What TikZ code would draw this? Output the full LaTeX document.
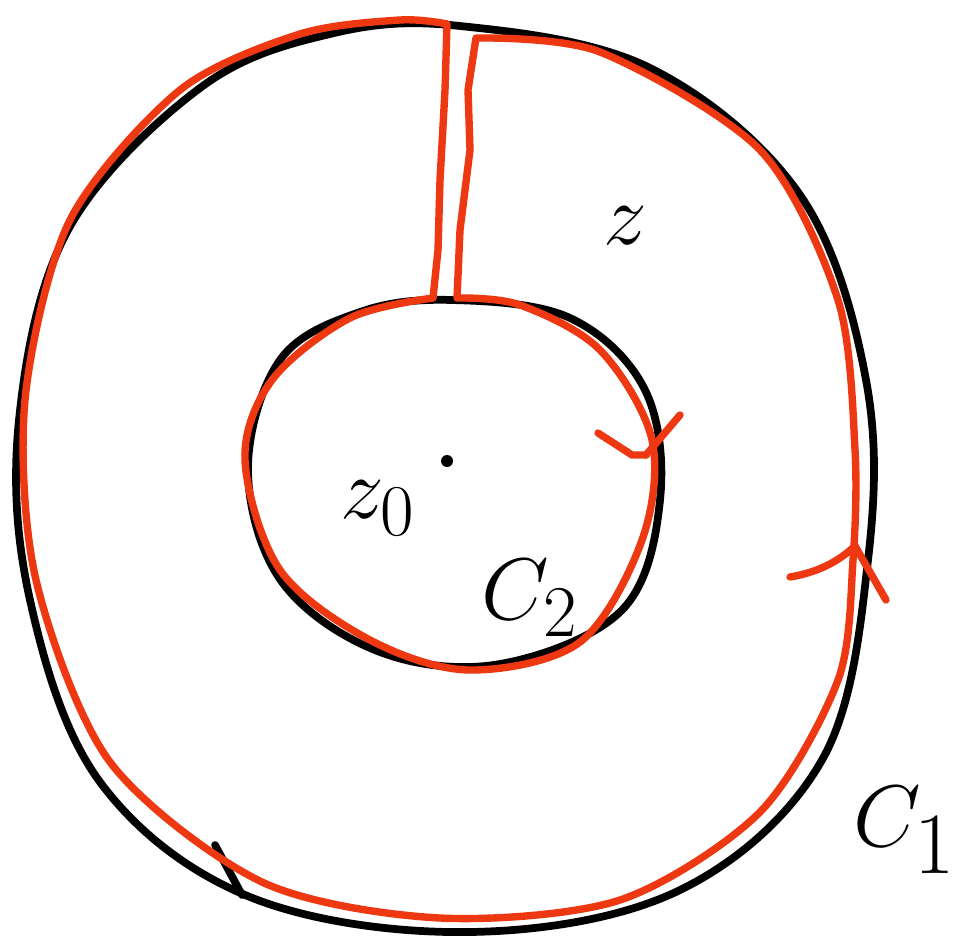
\documentclass[tikz,border=0pt]{standalone}
\usepackage{xcolor}
\usepackage{tikz}
\usetikzlibrary{positioning}
\usetikzlibrary{calc}

\definecolor{penred}{RGB}{238,56,18}

\begin{document}
\begin{tikzpicture}[
x=0.01cm, y=-0.01cm,
ink/.style={
  draw=black,
  line width=2.2pt,
  line cap=round,
  line join=round
},
contour/.style={
  draw=penred,
  line width=2.1pt,
  line cap=round,
  line join=round
},
tip/.style={
  draw=penred,
  line width=2.1pt,
  line cap=round
},
lbl/.style={
  inner sep=0pt,
  text=black
}
]
\useasboundingbox (0,0) rectangle (968,937);

% ---- black circles ----
\draw[ink] plot[smooth cycle, tension=0.6] coordinates {
  (460,26) (650,68) (800,195) (866,380) (868,560) (822,760)
  (680,890) (470,932) (250,897) (100,782) (30,600) (19,420)
  (68,230) (200,88) (330,34)};
\draw[ink] plot[smooth cycle, tension=0.6] coordinates {
  (452,300) (570,318) (645,390) (660,500) (622,610) (500,664)
  (380,652) (282,582) (248,470) (280,360) (360,312)};
\draw[ink] (215,845) -- (242,895);

% ---- red keyhole contour ----
\draw[contour] plot[smooth, tension=0.5] coordinates {
  (476,38) (600,52) (760,150) (838,300) (855,450) (853,560)
  (838,680) (760,812) (620,900) (440,918) (262,882) (110,762)
  (36,580) (25,400) (70,220) (180,90) (300,34) (400,20) (447,24)}
  -- (445,90) -- (440,180) -- (438,250) -- (433,298)
  plot[smooth, tension=0.55] coordinates {
  (433,298) (350,318) (272,380) (245,460) (280,570) (370,640)
  (470,670) (580,642) (642,540) (652,440) (600,350) (520,305) (457,298)}
  -- (460,230) -- (470,150) -- (468,90) -- (476,38);

% ---- arrowheads ----
\coordinate (innertip) at (646,455);
\coordinate (outertip) at (855,546);
\draw[tip] (598,433) -- (632,455) -- (innertip);
\draw[tip] (680,415) -- (innertip);
\draw[tip] (790,577) .. controls (820,572) and (840,560) .. (outertip);
\draw[tip] (886,600) -- (outertip);

% ---- labels ----
\fill[black] (447,461) circle (6);
\node[lbl, font=\fontsize{46}{52}\selectfont] (zlab) at (625,226) {$z$};
\node[lbl, font=\fontsize{32}{38}\selectfont] (zzero) at (378,508) {$z_0$};
\node[lbl, font=\fontsize{32}{38}\selectfont] (ctwo) at (530,598) {$C_2$};
\node[lbl, font=\fontsize{40}{46}\selectfont] (cone) at (905,830) {$C_1$};

\end{tikzpicture}
\end{document}
